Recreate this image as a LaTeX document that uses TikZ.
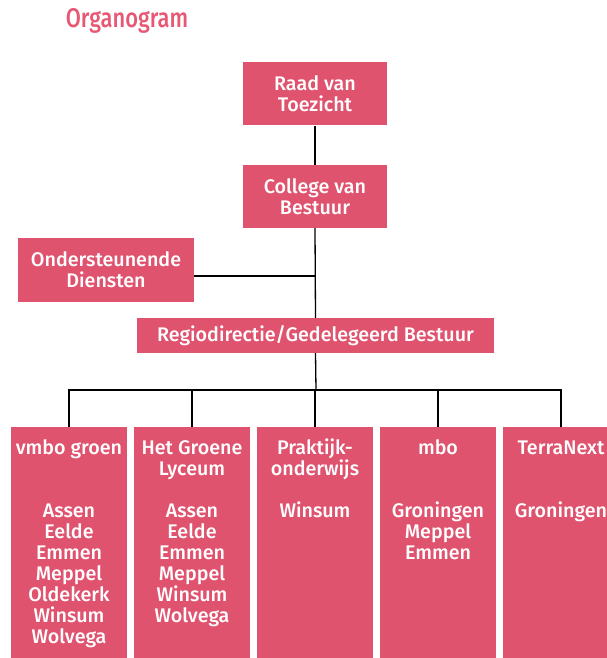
\documentclass[tikz,border=0pt]{standalone}
\usepackage{fontspec}
\usepackage{graphicx}
\setmainfont{Fira Sans}
\newfontfamily\med{Fira Sans Medium}
\definecolor{boxred}{HTML}{E0536F}
\definecolor{titlered}{HTML}{E65874}
\tikzset{
  box/.style={fill=boxred, text=white, inner sep=0pt, align=center,
    font=\med\fontsize{19.7}{21}\selectfont},
  colbox/.style={box, anchor=north},
  link/.style={draw=black, line width=1.3pt},
  titlestyle/.style={text=titlered, inner sep=0pt, font=\med\fontsize{27}{30}\selectfont}
}
\newcommand\colcontent[1]{\parbox[t][240pt][t]{116pt}{\centering\rule{0pt}{27pt}#1}}
\begin{document}
\begin{tikzpicture}[x=1pt,y=-1pt]
\useasboundingbox (0,0) rectangle (607,658);
\clip (0,0) rectangle (607,658);
\node[titlestyle] (title) at (127,21) {\scalebox{0.81}[1]{Organogram}};
\node[box, minimum width=144pt, minimum height=63pt] (raad) at (315,94) {Raad van\\Toezicht};
\node[box, minimum width=144pt, minimum height=63pt] (college) at (315,196.5) {College van\\Bestuur};
\node[box, minimum width=176pt, minimum height=64pt] (onder) at (106,270) {Ondersteunende\\Diensten};
\node[box, minimum width=357pt, minimum height=35pt] (regio) at (315.5,335.5) {Regiodirectie/Gedelegeerd Bestuur};
\node[colbox] (b1) at (69,427) {\colcontent{vmbo groen\\[42pt]Assen\\Eelde\\Emmen\\Meppel\\Oldekerk\\Winsum\\Wolvega}};
\node[colbox] (b2) at (192,427) {\colcontent{Het Groene\\Lyceum\\[21pt]Assen\\Eelde\\Emmen\\Meppel\\Winsum\\Wolvega}};
\node[colbox] (b3) at (315,427) {\colcontent{Praktijk-\\onderwijs\\[21pt]Winsum}};
\node[colbox] (b4) at (438,427) {\colcontent{mbo\\[42pt]Groningen\\Meppel\\Emmen}};
\node[colbox] (b5) at (561,427) {\colcontent{TerraNext\\[42pt]Groningen}};
\coordinate (j) at (316,276);
\coordinate (bus) at (316,390);
\draw[link] (raad.south) -- (college.north);
\draw[link] (college.south) -- (regio.north);
\draw[link] (onder.east |- j) -- (j);
\draw[link] (regio.south) -- (bus);
\draw[link] (b1.north) -- (b1.north |- bus) -- (b5.north |- bus) -- (b5.north);
\draw[link] (b2.north) -- (b2.north |- bus);
\draw[link] (b3.north) -- (b3.north |- bus);
\draw[link] (b4.north) -- (b4.north |- bus);
\end{tikzpicture}
\end{document}
